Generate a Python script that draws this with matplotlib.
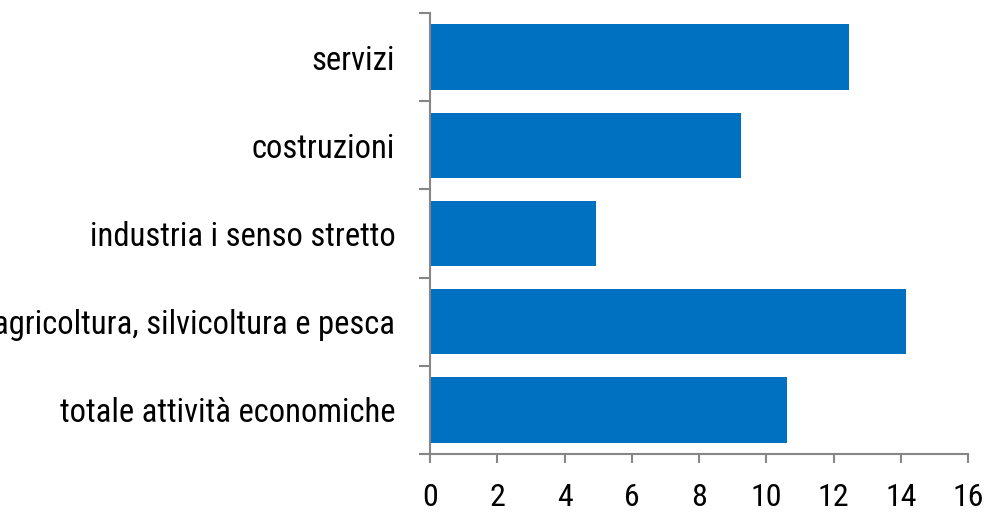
import matplotlib
matplotlib.use("Agg")
import matplotlib.pyplot as plt
import numpy as np
import logging
logging.getLogger("matplotlib.font_manager").setLevel(logging.ERROR)

categories = ["totale attività economiche", "agricoltura, silvicoltura e pesca",
              "industria i senso stretto", "costruzioni", "servizi"]
values = [10.62, 14.15, 4.95, 9.25, 12.45]
xticks = [0, 2, 4, 6, 8, 10, 12, 14, 16]

plt.rcParams['font.family'] = ['Roboto Condensed', 'Liberation Sans Narrow', 'Archivo Narrow', 'DejaVu Sans']

fig = plt.figure(figsize=(9.86, 5.16), dpi=100)
ax = fig.add_axes([430/986, (516-454)/516, (968-430)/986, (454-13)/516])

y = np.arange(len(categories))
ax.barh(y, values, height=0.74, color="#0070C0")

ax.set_xlim(0, 16)
ax.set_ylim(-0.5, len(categories) - 0.5)
ax.set_xticks(xticks)
ax.set_xticklabels([str(t) for t in xticks])
ax.set_yticks(y)
ax.set_yticklabels(categories)
ax.set_yticks(np.arange(-0.5, len(categories)), minor=True)

axc = "#868686"
for s in ["top", "right"]:
    ax.spines[s].set_visible(False)
for s in ["left", "bottom"]:
    ax.spines[s].set_color(axc)
    ax.spines[s].set_linewidth(1.5)

ax.tick_params(axis="y", which="major", length=0, pad=25, labelsize=23.5, labelcolor="black")
ax.tick_params(axis="y", which="minor", length=8, width=1.5, color=axc, direction="out")
ax.tick_params(axis="x", which="major", length=6.5, width=1.5, color=axc, pad=14.5,
               labelsize=23, labelcolor="black")

fig.savefig("out.png", dpi=100)
